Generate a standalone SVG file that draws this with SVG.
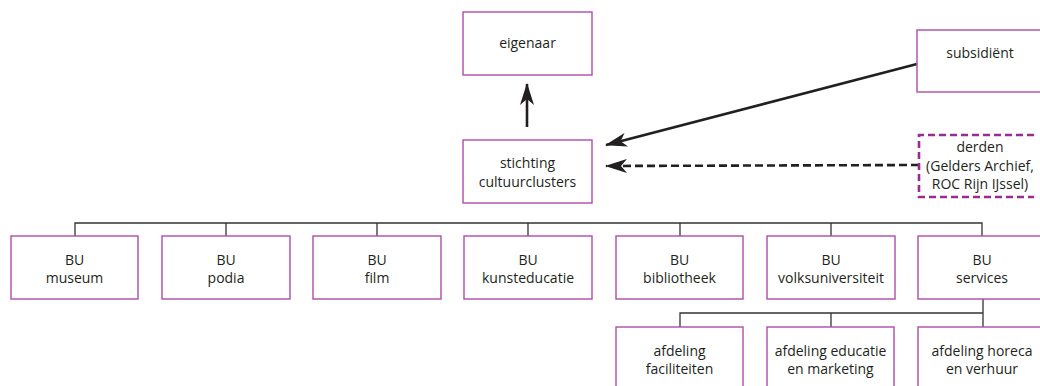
<svg xmlns="http://www.w3.org/2000/svg" width="1040" height="386" viewBox="0 0 1040 386">
<defs>
<style>
.box{fill:#fff;stroke:#b04ca8;stroke-width:1.4}
.dbox{fill:#fff;stroke:#9c2a94;stroke-width:2.6;stroke-dasharray:7 4}
text{font-family:"Open Sans","Noto Sans","Liberation Sans",sans-serif;font-size:14px;fill:#231f20;text-anchor:middle}
.tree{fill:none;stroke:#333;stroke-width:1.3}
.arr{fill:none;stroke:#231f20;stroke-width:2.6}
.dash{stroke-dasharray:8 4}
</style>
<marker id="ah" viewBox="0 0 22 14" refX="21" refY="7" markerWidth="22" markerHeight="14" markerUnits="userSpaceOnUse" orient="auto">
<path d="M0,0 L22,7 L0,14 L6,7 z" fill="#231f20"/>
</marker>
</defs>
<rect width="1040" height="386" fill="#fff"/>
<g id="connectors">
<line class="arr" x1="527" y1="127" x2="527" y2="84" marker-end="url(#ah)"/>
<line class="arr" x1="917" y1="64" x2="606" y2="145" marker-end="url(#ah)"/>
<line class="arr dash" x1="919" y1="165" x2="606" y2="166" marker-end="url(#ah)"/>
<path class="tree" d="M75,236 V223 H982 V236 M226,223 V236 M377,223 V236 M528,223 V236 M680,223 V236 M831,223 V236"/>
<path class="tree" d="M983,299 V313 H680 V327 M831,313 V327 M983,313 V327"/>
</g>
<g id="eigenaar"><rect class="box" x="463" y="12" width="129" height="63"/><text x="527.5" y="48">eigenaar</text></g>
<g id="stichting"><rect class="box" x="463" y="140" width="129" height="63"/><text x="527.5" y="168">stichting</text><text x="527.5" y="187">cultuurclusters</text></g>
<g id="subsidient"><rect class="box" x="917" y="30" width="128" height="62"/><text x="980" y="58">subsidiënt</text></g>
<g id="derden"><path class="dbox" d="M1034,135 H919 V197 H1034" fill="none"/><text x="980" y="152">derden</text><text x="980" y="171">(Gelders Archief,</text><text x="980" y="189">ROC Rijn IJssel)</text></g>
<g id="bu-museum"><rect class="box" x="11" y="236" width="127" height="63"/><text x="74.5" y="265">BU</text><text x="74.5" y="283">museum</text></g>
<g id="bu-podia"><rect class="box" x="162" y="236" width="128" height="63"/><text x="226" y="265">BU</text><text x="226" y="283">podia</text></g>
<g id="bu-film"><rect class="box" x="313" y="236" width="128" height="63"/><text x="377" y="265">BU</text><text x="377" y="283">film</text></g>
<g id="bu-kunsteducatie"><rect class="box" x="464" y="236" width="128" height="63"/><text x="528" y="265">BU</text><text x="528" y="283">kunsteducatie</text></g>
<g id="bu-bibliotheek"><rect class="box" x="616" y="236" width="127" height="63"/><text x="679.5" y="265">BU</text><text x="679.5" y="283">bibliotheek</text></g>
<g id="bu-volksuniversiteit"><rect class="box" x="767" y="236" width="128" height="63"/><text x="831" y="265">BU</text><text x="831" y="283">volksuniversiteit</text></g>
<g id="bu-services"><rect class="box" x="918" y="236" width="128" height="63"/><text x="982" y="265">BU</text><text x="982" y="283">services</text></g>
<g id="afd-faciliteiten"><rect class="box" x="616" y="327" width="127" height="63"/><text x="679.5" y="356">afdeling</text><text x="679.5" y="374">faciliteiten</text></g>
<g id="afd-educatie"><rect class="box" x="767" y="327" width="127" height="63"/><text x="830.5" y="356">afdeling educatie</text><text x="830.5" y="374">en marketing</text></g>
<g id="afd-horeca"><rect class="box" x="918" y="327" width="128" height="63"/><text x="982" y="356">afdeling horeca</text><text x="982" y="374">en verhuur</text></g>
</svg>
